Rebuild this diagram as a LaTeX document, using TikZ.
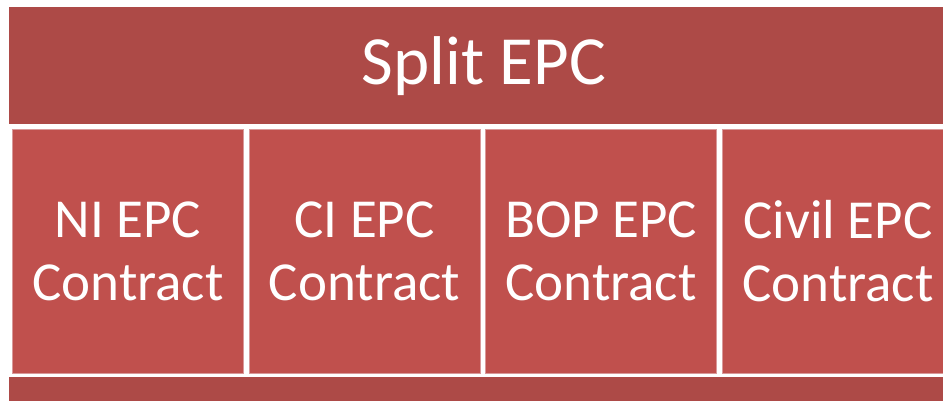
\documentclass[tikz,border=0pt]{standalone}
\usepackage{fontspec}
\setmainfont{Carlito}
\definecolor{barred}{HTML}{AD4A47}
\definecolor{boxred}{HTML}{C0504D}
\definecolor{edgered}{HTML}{D9999A}
\tikzset{
  bar/.style={fill=barred, draw=none},
  partbox/.style={fill=boxred, draw=edgered, line width=1pt},
  bigtext/.style={text=white, font=\fontsize{69}{76}\selectfont},
  boxtext/.style={text=white, font=\fontsize{55}{63}\selectfont, align=center}
}
\begin{document}
\begin{tikzpicture}[x=1pt,y=-1pt]
\useasboundingbox (0,0) rectangle (943,401);
\fill[white] (0,0) rectangle (943,401);
\path[bar] (9,7) rectangle (943,124);
\node[bigtext] (title) at (484,66) {Split EPC};
\path[partbox] (12.5,129.5) rectangle (243.5,373.5);
\path[partbox] (249,129.5) rectangle (480,373.5);
\path[partbox] (485.5,129.5) rectangle (716.5,373.5);
\path[partbox] (722,129.5) rectangle (945,373.5);
\node[boxtext] (ni) at (128,251) {NI EPC\\Contract};
\node[boxtext] (ci) at (364.5,251) {CI EPC\\Contract};
\node[boxtext] (bop) at (601,251) {BOP EPC\\Contract};
\node[boxtext] (civil) at (838,251) {Civil EPC\\Contract};
\path[bar] (9,377) rectangle (943,401);
\end{tikzpicture}
\end{document}
